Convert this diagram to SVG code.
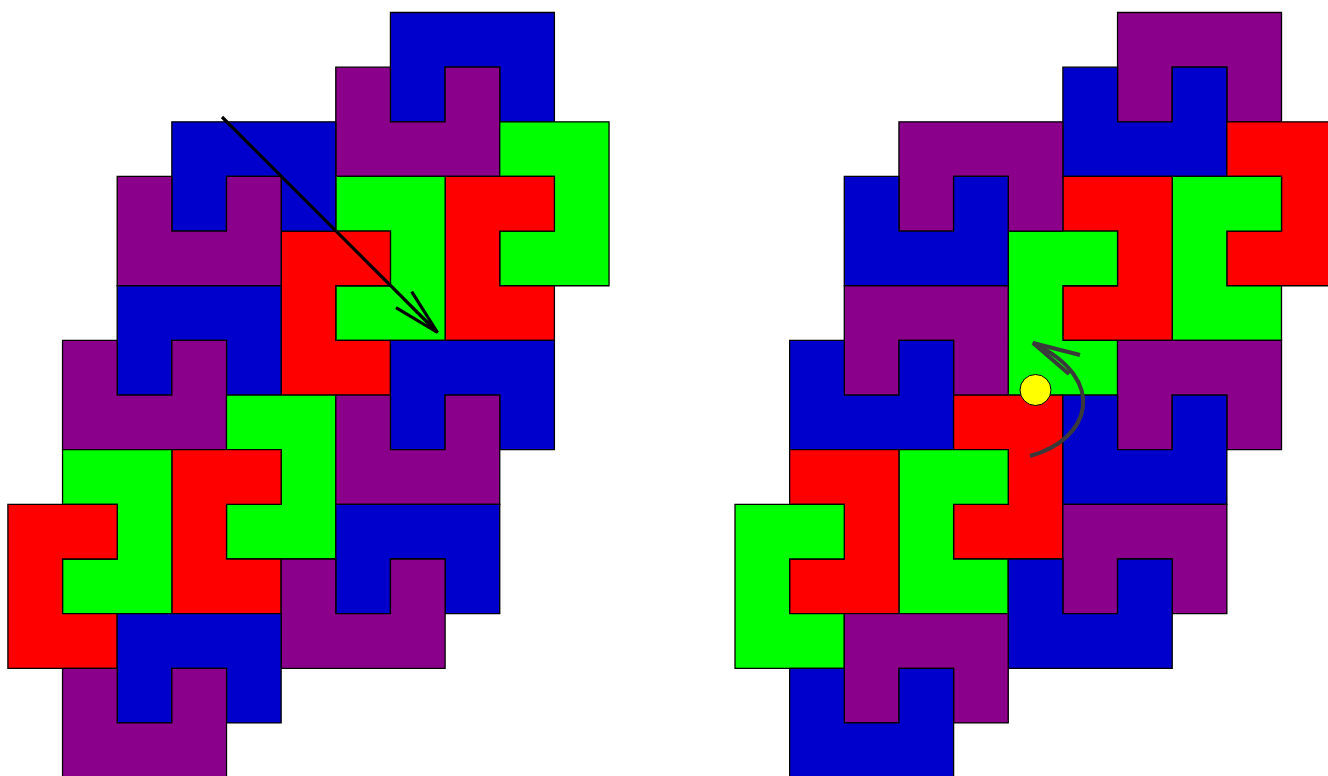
<svg xmlns="http://www.w3.org/2000/svg" width="1328" height="776" viewBox="0 0 1328 776">
<style>
.t{stroke:#000;stroke-width:1.3;stroke-linejoin:miter}
.b{fill:#0000CD}.p{fill:#8B008B}.g{fill:#00FF00}.r{fill:#FF0000}
.arr{fill:none;stroke:#000;stroke-width:3.2;stroke-linecap:butt}
.arr2{fill:none;stroke:#3a3a3a;stroke-width:4}
</style>
<defs>
<path id="A" d="M0,0 H163.95 V109.3 H109.3 V54.65 H54.65 V109.3 H0 Z"/>
<path id="B" d="M0,0 H54.65 V54.65 H109.3 V0 H163.95 V109.3 H0 Z"/>
<path id="C" d="M0,0 H109.3 V163.95 H0 V109.3 H54.65 V54.65 H0 Z"/>
<path id="D" d="M0,0 H109.3 V54.65 H54.65 V109.3 H109.3 V163.95 H0 Z"/>
</defs>
<rect width="1328" height="776" fill="#fff"/>
<g id="left-tiling">
<g id="L1"><use href="#A" class="t b" x="390.45" y="12.5"/></g>
<g id="L2"><use href="#B" class="t p" x="335.8" y="67.15"/></g>
<g id="L3"><use href="#C" class="t g" x="499.75" y="121.8"/></g>
<g id="L4"><use href="#D" class="t r" x="445.1" y="176.45"/></g>
<g id="L5"><use href="#C" class="t g" x="335.8" y="176.45"/></g>
<g id="L6"><use href="#D" class="t r" x="281.15" y="231.1"/></g>
<g id="L7"><use href="#A" class="t b" x="171.85" y="121.8"/></g>
<g id="L8"><use href="#B" class="t p" x="117.2" y="176.45"/></g>
<g id="L9"><use href="#A" class="t b" x="117.2" y="285.75"/></g>
<g id="L10"><use href="#B" class="t p" x="62.55" y="340.4"/></g>
<g id="L11"><use href="#C" class="t g" x="226.5" y="395.05"/></g>
<g id="L12"><use href="#D" class="t r" x="171.85" y="449.7"/></g>
<g id="L13"><use href="#C" class="t g" x="62.55" y="449.7"/></g>
<g id="L14"><use href="#D" class="t r" x="7.9" y="504.35"/></g>
<g id="L15"><use href="#A" class="t b" x="390.45" y="340.4"/></g>
<g id="L16"><use href="#B" class="t p" x="335.8" y="395.05"/></g>
<g id="L17"><use href="#A" class="t b" x="335.8" y="504.35"/></g>
<g id="L18"><use href="#B" class="t p" x="281.15" y="559"/></g>
<g id="L19"><use href="#A" class="t b" x="117.2" y="613.65"/></g>
<g id="L20"><use href="#B" class="t p" x="62.55" y="668.3"/></g>
</g>
<g id="right-tiling">
<g id="R1"><use href="#A" class="t p" x="1117.55" y="12.5"/></g>
<g id="R2"><use href="#B" class="t b" x="1062.9" y="67.15"/></g>
<g id="R3"><use href="#C" class="t r" x="1226.85" y="121.8"/></g>
<g id="R4"><use href="#D" class="t g" x="1172.2" y="176.45"/></g>
<g id="R5"><use href="#C" class="t r" x="1062.9" y="176.45"/></g>
<g id="R6"><use href="#D" class="t g" x="1008.25" y="231.1"/></g>
<g id="R7"><use href="#A" class="t p" x="898.95" y="121.8"/></g>
<g id="R8"><use href="#B" class="t b" x="844.3" y="176.45"/></g>
<g id="R9"><use href="#A" class="t p" x="844.3" y="285.75"/></g>
<g id="R10"><use href="#B" class="t b" x="789.65" y="340.4"/></g>
<g id="R11"><use href="#C" class="t r" x="953.6" y="395.05"/></g>
<g id="R12"><use href="#D" class="t g" x="898.95" y="449.7"/></g>
<g id="R13"><use href="#C" class="t r" x="789.65" y="449.7"/></g>
<g id="R14"><use href="#D" class="t g" x="735" y="504.35"/></g>
<g id="R15"><use href="#A" class="t p" x="1117.55" y="340.4"/></g>
<g id="R16"><use href="#B" class="t b" x="1062.9" y="395.05"/></g>
<g id="R17"><use href="#A" class="t p" x="1062.9" y="504.35"/></g>
<g id="R18"><use href="#B" class="t b" x="1008.25" y="559"/></g>
<g id="R19"><use href="#A" class="t p" x="844.3" y="613.65"/></g>
<g id="R20"><use href="#B" class="t b" x="789.65" y="668.3"/></g>
</g>
<g id="connectors">
<line class="arr" x1="222" y1="117" x2="437" y2="332"/>
<polyline class="arr" points="411.7,291.7 437.5,332.5 396,307.7"/>
<path class="arr2" d="M1030,456 C1090,440 1110,380 1033,343"/>
<polyline class="arr2" points="1080,355 1033,343 1069,374"/>
</g>
<g id="pivot"><circle cx="1035.5" cy="390" r="15.5" fill="#FFFF00" stroke="#000" stroke-width="1"/></g>
</svg>
